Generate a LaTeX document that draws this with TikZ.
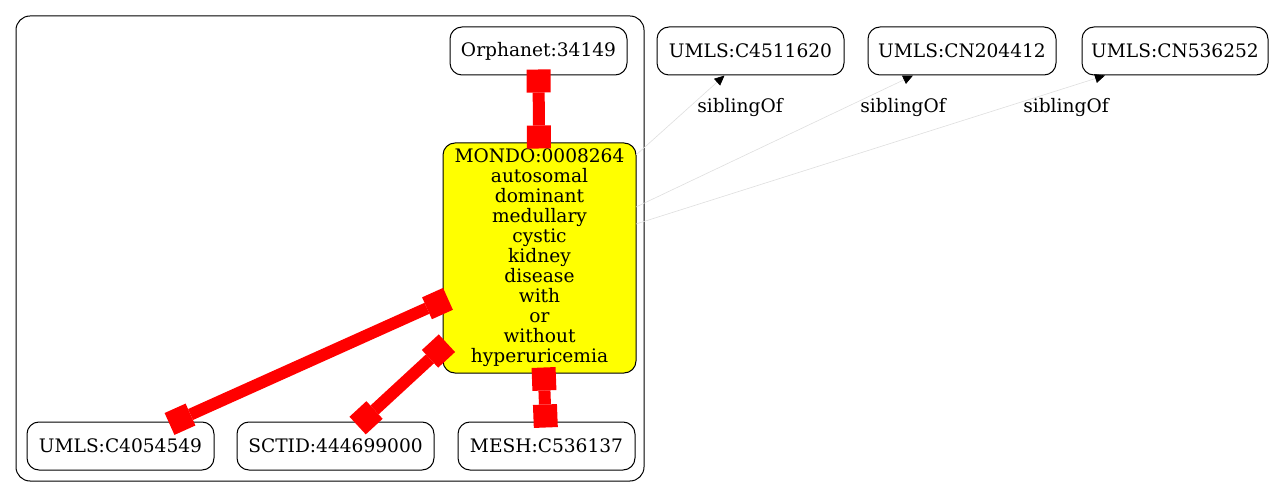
\documentclass[tikz,border=0pt]{standalone}
\usepackage{fontspec}
\setmainfont{DejaVu Serif}
\usetikzlibrary{arrows.meta,calc}
\definecolor{gvyellow}{RGB}{255,255,0}
\definecolor{gvred}{RGB}{255,0,0}
\begin{document}
\begin{tikzpicture}[x=1pt,y=-1pt,
  box/.style={draw=black,line width=1pt,rounded corners=12pt,inner sep=0pt,
    font=\fontsize{18.6}{20}\selectfont,align=center},
  mondo/.style={box,fill=gvyellow},
  xref/.style={draw=gvred,line width=12pt,
    {Square[length=23pt,width=24pt,line width=0pt]}-{Square[length=23pt,width=24pt,line width=0pt]},
    shorten <=-6pt,shorten >=-6pt},
  sib/.style={draw=black!13,line width=0.6pt,-{Triangle[length=10pt,width=9pt,color=black]}},
  lbl/.style={font=\fontsize{18.6}{20}\selectfont,inner sep=0pt}
]
\useasboundingbox (0,0) rectangle (1278,497);
\draw[line width=1pt,rounded corners=14pt] (16,16) rectangle (644,481);
\node[box,minimum width=177pt,minimum height=48pt] (OR) at (538.5,51) {Orphanet:34149};
\node[box,minimum width=187pt,minimum height=48pt] (UA) at (750.5,51) {UMLS:C4511620};
\node[box,minimum width=188pt,minimum height=48pt] (UB) at (962,51) {UMLS:CN204412};
\node[box,minimum width=186pt,minimum height=48pt] (UC) at (1175,51) {UMLS:CN536252};
\node[mondo,minimum width=193pt,minimum height=230pt] (M) at (539.5,258)
  {MONDO:0008264\\autosomal\\dominant\\medullary\\cystic\\kidney\\disease\\with\\or\\without\\hyperuricemia};
\node[box,minimum width=187pt,minimum height=48pt] (L1) at (120.5,446) {UMLS:C4054549};
\node[box,minimum width=197pt,minimum height=48pt] (L2) at (335.5,446) {SCTID:444699000};
\node[box,minimum width=177pt,minimum height=48pt] (L3) at (546.5,446) {MESH:C536137};
\draw[xref] (OR) -- (M);
\draw[xref] (M) -- (L1);
\draw[xref] (M) -- (L2);
\draw[xref] (M) -- (L3);
\coordinate (s1) at (636,155);
\coordinate (s2) at (636,207);
\coordinate (s3) at (636,224);
\draw[sib] (s1) -- ([xshift=-26pt]UA.south);
\draw[sib] (s2) -- ([xshift=-49pt]UB.south);
\draw[sib] (s3) -- ([xshift=-70pt]UC.south);
\node[lbl] (k1) at (740,108) {siblingOf};
\node[lbl] (k2) at (903,108) {siblingOf};
\node[lbl] (k3) at (1066,108) {siblingOf};
\end{tikzpicture}
\end{document}
